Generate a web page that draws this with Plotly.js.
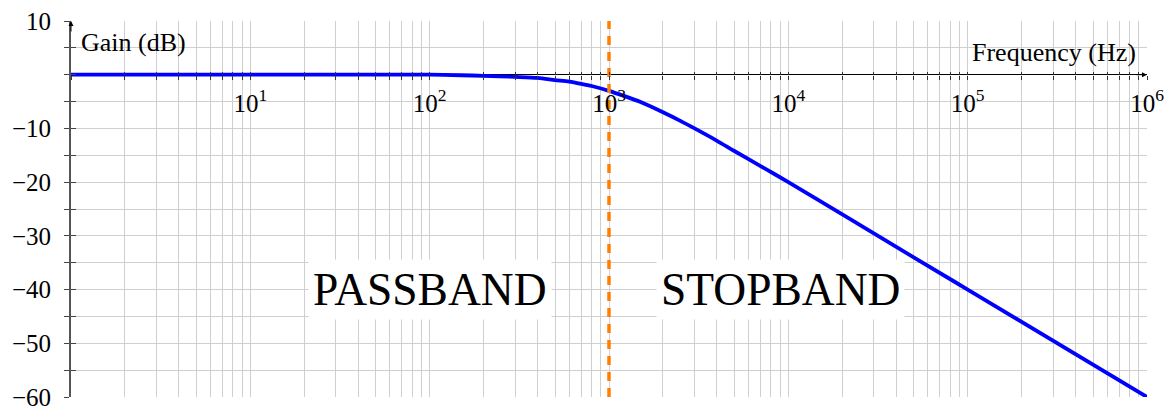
<!DOCTYPE html>
<html>
<head>
<meta charset="utf-8">
<script src="https://cdn.plot.ly/plotly-3.0.1.min.js"></script>
<style>
  html, body { margin: 0; padding: 0; background: #ffffff; }
  #chart { width: 1172px; height: 406px; }
  #chart text, #chart tspan { font-family: 'Liberation Serif', serif !important; }
</style>
</head>
<body>
<div id="chart"></div>
<script>
// First-order low-pass response, gain in dB against frequency in Hz
const freqHz = [1, 10, 50, 100, 150, 200, 300, 400, 500, 600, 700, 800, 1000, 1200, 1500,
                2000, 2500, 3000, 4000, 5000, 7000, 10000, 20000, 50000, 100000, 1000000];
const gainDb = [0, 0, 0, 0, -0.1, -0.2, -0.4, -0.6, -1.0, -1.3, -1.7, -2.1, -3.0, -3.9, -5.1,
                -7.0, -8.6, -10.0, -12.3, -14.2, -17.0, -20.0, -26.0, -34.0, -40.0, -60.0];

// Cut-off marker
const cutoffHz = [1000, 1000];
const cutoffDb = [-60, 10];

// Region captions
const regionText = ['PASSBAND', 'STOPBAND'];
const regionHz = [100, 9000];
const regionDb = [-40, -40];

// Axis ranges and ticks
const xDecades = [0, 6];
const yRange = [-60, 10];
const xTickVals = [];
const xTickText = [];
for (let d = 0; d < 6; d++) {
  for (let m = 1; m <= 9; m++) {
    xTickVals.push(m * Math.pow(10, d));
    xTickText.push(m === 1 && d > 0 ? '10<sup>' + d + '</sup>' : '');
  }
}
xTickVals.push(1e6);
xTickText.push('10<sup>6</sup>');

const yTickVals = [10, 5, 0, -5, -10, -15, -20, -25, -30, -35, -40, -45, -50, -55, -60];
const yTickText = yTickVals.map(v => (v % 10 === 0 && v !== 0) ? String(v).replace('-', '\u2212') : '');

const serifFamily = 'Liberation Serif';
const gridColor = '#cfcfcf';
const zeroPos = (0 - yRange[0]) / (yRange[1] - yRange[0]);

const traces = [
  {
    x: freqHz, y: gainDb, type: 'scatter', mode: 'lines',
    line: { color: '#0000ff', width: 3.8, shape: 'spline', smoothing: 0.8 },
    hoverinfo: 'skip', showlegend: false
  },
  {
    x: cutoffHz, y: cutoffDb, type: 'scatter', mode: 'lines',
    line: { color: '#ff8000', width: 3.5, dash: '9px,7px' },
    hoverinfo: 'skip', showlegend: false
  },
  // carrier for the inward tick marks
  { x: [], y: [], xaxis: 'x2', yaxis: 'y2', type: 'scatter', mode: 'lines', showlegend: false }
];

const regionAnnotations = regionText.map((t, i) => ({
  x: Math.log10(regionHz[i]), y: regionDb[i], xref: 'x', yref: 'y',
  text: t, showarrow: false,
  font: { family: serifFamily, size: 45.5, color: '#000000' },
  bgcolor: '#ffffff', borderpad: 4
}));

const layout = {
  width: 1172, height: 406,
  margin: { l: 71, r: 25, t: 21, b: 9 },
  paper_bgcolor: '#ffffff', plot_bgcolor: '#ffffff',
  xaxis: {
    type: 'log', range: xDecades,
    anchor: 'free', position: zeroPos,
    showline: false, zeroline: false,
    showgrid: true, gridcolor: gridColor, gridwidth: 1,
    tickmode: 'array', tickvals: xTickVals, ticktext: xTickText,
    ticks: 'outside', ticklen: 4, tickwidth: 1, tickcolor: '#333333',
    tickfont: { family: serifFamily, size: 25, color: '#000000' },
    ticklabelstandoff: 2, ticklabeloverflow: 'allow'
  },
  xaxis2: {
    type: 'log', range: xDecades, overlaying: 'x', matches: 'x',
    anchor: 'free', position: zeroPos,
    showline: false, zeroline: false, showgrid: false,
    tickmode: 'array', tickvals: xTickVals, showticklabels: false,
    ticks: 'inside', ticklen: 3, tickwidth: 1, tickcolor: '#333333'
  },
  yaxis: {
    range: yRange,
    showline: true, linecolor: '#555555', linewidth: 2,
    zeroline: true, zerolinecolor: '#000000', zerolinewidth: 1,
    showgrid: true, gridcolor: gridColor, gridwidth: 1,
    tickmode: 'array', tickvals: yTickVals, ticktext: yTickText,
    ticks: 'outside', ticklen: 5, tickwidth: 1, tickcolor: '#444444',
    tickfont: { family: serifFamily, size: 25, color: '#000000' },
    ticklabelstandoff: 8, ticklabeloverflow: 'allow'
  },
  yaxis2: {
    range: yRange, overlaying: 'y', matches: 'y', anchor: 'x2', side: 'left',
    showline: false, zeroline: false, showgrid: false,
    tickmode: 'array', tickvals: yTickVals, showticklabels: false,
    ticks: 'inside', ticklen: 5, tickwidth: 1, tickcolor: '#444444'
  },
  annotations: regionAnnotations.concat([
    {
      x: 0, y: 6, xref: 'paper', yref: 'y', xanchor: 'left', xshift: 8,
      text: 'Gain (dB)', showarrow: false,
      font: { family: serifFamily, size: 26, color: '#000000' }
    },
    {
      x: 1, y: 4.2, xref: 'paper', yref: 'y', xanchor: 'right', xshift: -9,
      text: 'Frequency (Hz)', showarrow: false,
      font: { family: serifFamily, size: 26, color: '#000000' }
    },
    // axis arrowheads
    {
      x: 1, y: 0, xref: 'paper', yref: 'y', text: '',
      showarrow: true, arrowhead: 2, arrowsize: 1, arrowwidth: 1, arrowcolor: '#000000',
      ax: -12, ay: 0
    },
    {
      x: 0, y: 10, xref: 'paper', yref: 'y', text: '',
      showarrow: true, arrowhead: 2, arrowsize: 1, arrowwidth: 1, arrowcolor: '#000000',
      ax: 0, ay: 12
    }
  ])
};

Plotly.newPlot('chart', traces, layout, { staticPlot: true, displayModeBar: false });
</script>
</body>
</html>
